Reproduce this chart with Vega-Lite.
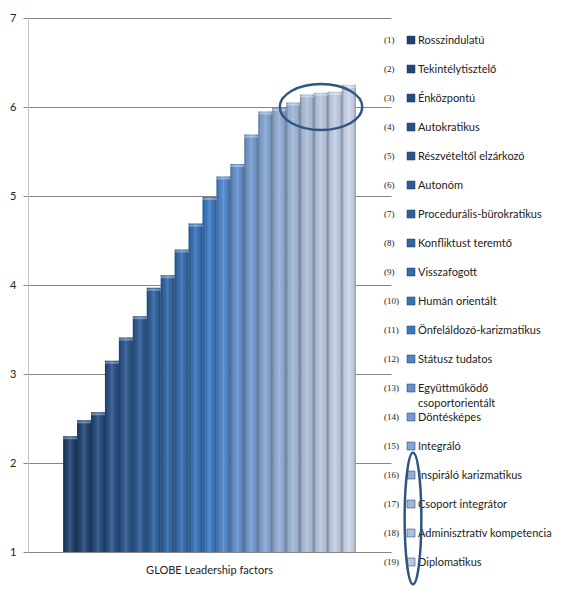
{
  "$schema": "https://vega.github.io/schema/vega-lite/v6.json",
  "background": "white",
  "padding": {"left": 9, "top": 12, "right": 0, "bottom": 0},
  "config": {
    "view": {"stroke": null},
    "font": "Lato",
    "concat": {"spacing": -7}
  },
  "datasets": {
    "bars": [
      {"factor": "GLOBE Leadership factors", "id": 1, "num": "(1)", "name": "Rosszindulatú", "value": 2.30},
      {"factor": "GLOBE Leadership factors", "id": 2, "num": "(2)", "name": "Tekintélytisztelő", "value": 2.48},
      {"factor": "GLOBE Leadership factors", "id": 3, "num": "(3)", "name": "Énközpontú", "value": 2.57},
      {"factor": "GLOBE Leadership factors", "id": 4, "num": "(4)", "name": "Autokratikus", "value": 3.15},
      {"factor": "GLOBE Leadership factors", "id": 5, "num": "(5)", "name": "Részvételtől elzárkozó", "value": 3.41},
      {"factor": "GLOBE Leadership factors", "id": 6, "num": "(6)", "name": "Autonóm", "value": 3.65},
      {"factor": "GLOBE Leadership factors", "id": 7, "num": "(7)", "name": "Procedurális-bürokratikus", "value": 3.97},
      {"factor": "GLOBE Leadership factors", "id": 8, "num": "(8)", "name": "Konfliktust teremtő", "value": 4.11},
      {"factor": "GLOBE Leadership factors", "id": 9, "num": "(9)", "name": "Visszafogott", "value": 4.40},
      {"factor": "GLOBE Leadership factors", "id": 10, "num": "(10)", "name": "Humán orientált", "value": 4.69},
      {"factor": "GLOBE Leadership factors", "id": 11, "num": "(11)", "name": "Önfeláldozó-karizmatikus", "value": 4.99},
      {"factor": "GLOBE Leadership factors", "id": 12, "num": "(12)", "name": "Státusz tudatos", "value": 5.22},
      {"factor": "GLOBE Leadership factors", "id": 13, "num": "(13)", "name": ["Együttműködő", "csoportorientált"], "value": 5.36},
      {"factor": "GLOBE Leadership factors", "id": 14, "num": "(14)", "name": "Döntésképes", "value": 5.69},
      {"factor": "GLOBE Leadership factors", "id": 15, "num": "(15)", "name": "Integráló", "value": 5.95},
      {"factor": "GLOBE Leadership factors", "id": 16, "num": "(16)", "name": "Inspiráló karizmatikus", "value": 5.99},
      {"factor": "GLOBE Leadership factors", "id": 17, "num": "(17)", "name": "Csoport integrátor", "value": 6.05},
      {"factor": "GLOBE Leadership factors", "id": 18, "num": "(18)", "name": "Adminisztratív kompetencia", "value": 6.14},
      {"factor": "GLOBE Leadership factors", "id": 19, "num": "(19)", "name": "Diplomatikus", "value": 6.16},
      {"factor": "GLOBE Leadership factors", "id": 20, "num": "(20)", "name": null, "value": 6.17},
      {"factor": "GLOBE Leadership factors", "id": 21, "num": "(21)", "name": null, "value": 6.25}
    ]
  },
  "hconcat": [
    {
      "width": 363,
      "height": 534,
      "layer": [
        {
          "data": {"name": "bars"},
          "mark": {"type": "bar"},
          "encoding": {
            "x": {"field": "factor", "type": "nominal", "scale": {"paddingInner": 0, "paddingOuter": 0.12},
              "axis": {"title": null, "ticks": false, "labelFontSize": 11, "labelPadding": 12, "labelColor": "#222", "labelAngle": 0, "domainColor": "#868686", "grid": false}},
            "xOffset": {"field": "id", "type": "ordinal", "scale": {"paddingInner": 0, "paddingOuter": 0}},
            "y": {"field": "value", "type": "quantitative", "scale": {"domain": [1, 7], "zero": false, "nice": false},
              "axis": {"title": null, "values": [1, 2, 3, 4, 5, 6, 7], "format": "d", "tickSize": 5, "tickColor": "#868686", "gridColor": "#868686", "domainColor": "#C4C4C4", "labelFontSize": 11, "labelPadding": 7, "labelColor": "#222"}},
            "y2": {"datum": 1},
            "color": {"field": "id", "type": "ordinal",
              "scale": {"domain": [1,2,3,4,5,6,7,8,9,10,11,12,13,14,15,16,17,18,19,20,21],
                "range": ["#21416F","#234677","#254B7E","#285287","#2A568E","#2C5B95","#2E609D","#3066A6","#336CAF","#3672B8","#3A7AC4","#4F86CA","#6390CD","#749CD0","#85A6D3","#93AFD6","#A0B8DA","#AEC1DE","#B9C8E2","#C3CFE6","#CDD6EA"]},
              "legend": null}
          }
        },
        {
          "data": {"name": "bars"},
          "mark": {"type": "bar", "fill": {"gradient": "linear", "x1": 0, "y1": 0, "x2": 1, "y2": 0,
            "stops": [
              {"offset": 0, "color": "rgba(0,0,0,0.30)"},
              {"offset": 0.18, "color": "rgba(0,0,0,0.05)"},
              {"offset": 0.5, "color": "rgba(255,255,255,0.14)"},
              {"offset": 0.82, "color": "rgba(0,0,0,0.05)"},
              {"offset": 1, "color": "rgba(0,0,0,0.32)"}
            ]}},
          "encoding": {
            "x": {"field": "factor", "type": "nominal"},
            "xOffset": {"field": "id", "type": "ordinal"},
            "y": {"field": "value", "type": "quantitative"},
            "y2": {"datum": 1}
          }
        },
        {
          "data": {"name": "bars"},
          "mark": {"type": "tick", "orient": "horizontal", "thickness": 2, "color": "#FFFFFF", "opacity": 0.35, "yOffset": 2},
          "encoding": {
            "x": {"field": "factor", "type": "nominal"},
            "xOffset": {"field": "id", "type": "ordinal"},
            "y": {"field": "value", "type": "quantitative"}
          }
        },
        {
          "data": {"values": [{"factor": "GLOBE Leadership factors", "id": 19, "value": 6.0}]},
          "mark": {"type": "point", "shape": "M -1 0 A 1 0.557 0 1 1 1 0 A 1 0.557 0 1 1 -1 0 Z", "size": 6800, "filled": false, "stroke": "#2F5583", "strokeWidth": 2.5, "opacity": 1},
          "encoding": {
            "x": {"field": "factor", "type": "nominal"},
            "xOffset": {"field": "id", "type": "ordinal"},
            "y": {"field": "value", "type": "quantitative"}
          }
        }
      ]
    },
    {
      "width": 40,
      "height": 544,
      "layer": [
        {
          "data": {"name": "bars"},
          "transform": [{"filter": "datum.id <= 19"}],
          "mark": {"type": "square", "size": 64, "filled": true, "stroke": "#1B355C", "strokeWidth": 0.5, "opacity": 1},
          "encoding": {
            "y": {"field": "id", "type": "quantitative", "scale": {"domain": [0.24, 19], "reverse": true, "nice": false, "zero": false}, "axis": null},
            "color": {"field": "id", "type": "ordinal", "legend": null}
          }
        },
        {
          "data": {"name": "bars"},
          "transform": [{"filter": "datum.id <= 19"}],
          "mark": {"type": "text", "align": "left", "baseline": "alphabetic", "dx": -27, "dy": 3, "font": "Liberation Serif", "fontSize": 9, "color": "#222"},
          "encoding": {
            "y": {"field": "id", "type": "quantitative"},
            "text": {"field": "num"}
          }
        },
        {
          "data": {"name": "bars"},
          "transform": [{"filter": "datum.id <= 19"}],
          "mark": {"type": "text", "align": "left", "baseline": "alphabetic", "dx": 7, "dy": 4, "fontSize": 11, "lineHeight": 15, "color": "#222"},
          "encoding": {
            "y": {"field": "id", "type": "quantitative"},
            "text": {"field": "name"}
          }
        },
        {
          "data": {"values": [{"id": 17.5}]},
          "mark": {"type": "point", "shape": "M -0.127 0 A 0.127 1 0 1 1 0.127 0 A 0.127 1 0 1 1 -0.127 0 Z", "size": 17300, "filled": false, "stroke": "#2F5583", "strokeWidth": 2.5, "opacity": 1, "xOffset": 2},
          "encoding": {
            "y": {"field": "id", "type": "quantitative"}
          }
        }
      ]
    }
  ]
}
